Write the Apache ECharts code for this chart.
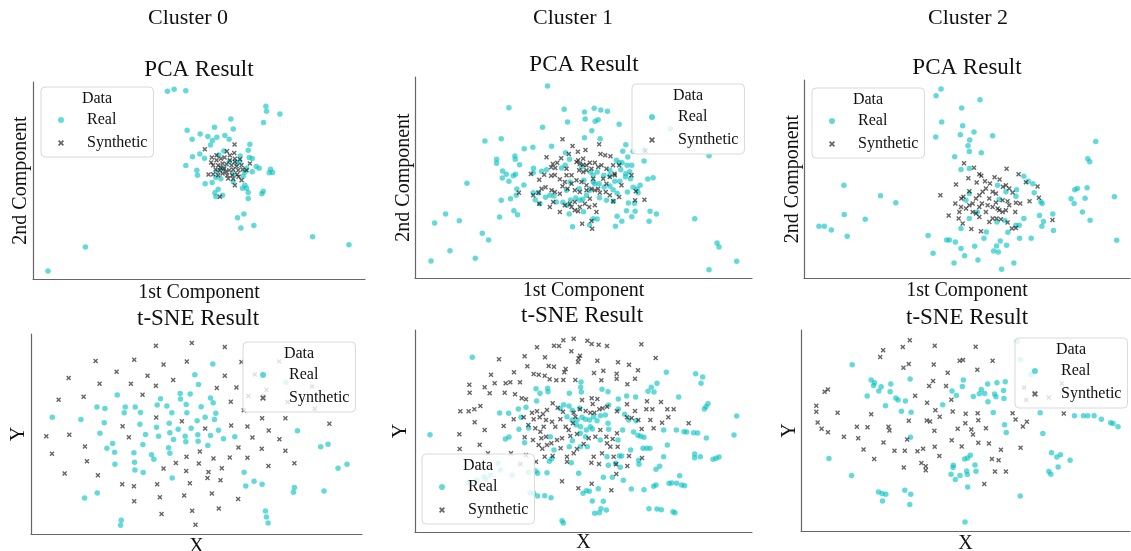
<!DOCTYPE html>
<html><head><meta charset="utf-8">
<script src="https://cdn.jsdelivr.net/npm/echarts@6/dist/echarts.min.js"></script>
<style>html,body{margin:0;padding:0;background:#fff}#c{width:1131px;height:551px}</style>
</head><body><div id="c"></div>
<script>
// ---------- DATA (arbitrary projection units) ----------
const clusterNames = ['Cluster 0', 'Cluster 1', 'Cluster 2'];
const seriesNames = ['Real', 'Synthetic'];

const pca0Real = [[503,564],[523,570],[558,566],[145,24],[257,96],[798,519],[800,504],[840,496],[693,481],[791,470],[938,127],[1047,103],[562,447],[644,456],[700,451],[601,436],[624,428],[651,426],[675,431],[577,420],[638,416],[688,420],[632,403],[750,405],[600,376],[578,367],[614,363],[672,385],[657,373],[745,387],[748,365],[721,370],[757,362],[558,341],[591,327],[593,312],[652,322],[648,305],[663,301],[616,286],[637,290],[655,270],[645,259],[648,248],[668,252],[735,321],[730,309],[740,333],[757,322],[769,338],[778,333],[812,330],[808,319],[818,320],[700,292],[735,282],[740,273],[728,273],[745,260],[745,242],[790,264],[786,256],[713,184],[732,195],[723,153],[762,161],[670,331],[700,317],[711,347],[688,352],[720,352]];
const pca0Syn = [[615,390],[681,384],[703,379],[704,404],[636,365],[650,357],[663,361],[674,365],[690,357],[705,361],[720,360],[640,342],[655,342],[668,347],[680,345],[695,342],[710,339],[725,342],[647,329],[660,327],[673,332],[688,327],[700,329],[715,327],[728,329],[640,315],[655,312],[668,317],[682,312],[697,312],[712,314],[626,314],[685,302],[700,301],[725,297],[705,282],[660,247],[750,347],[690,372],[662,335],[678,322],[705,352],[650,372],[716,307],[740,327],[634,350]];

const pca1Real = [[503,576],[387,511],[553,506],[614,498],[643,509],[663,504],[683,500],[563,468],[616,477],[646,470],[655,475],[718,461],[488,452],[636,442],[315,411],[364,418],[614,421],[661,418],[433,388],[459,392],[515,395],[405,366],[406,356],[350,356],[350,344],[419,340],[368,321],[367,300],[387,290],[400,307],[407,311],[379,311],[461,329],[460,316],[485,320],[500,325],[432,279],[411,267],[409,248],[364,233],[392,238],[460,256],[476,256],[466,235],[510,248],[522,246],[497,242],[529,228],[480,223],[402,202],[413,190],[359,183],[261,284],[164,165],[197,192],[238,172],[210,82],[153,51],[286,59],[307,134],[326,114],[557,376],[569,356],[556,338],[545,330],[571,288],[560,263],[549,227],[562,218],[568,192],[578,154],[611,199],[640,178],[652,177],[629,159],[712,185],[707,155],[726,170],[740,202],[756,184],[766,200],[808,170],[811,200],[830,192],[945,178],[1012,105],[1018,93],[1071,50],[988,25],[872,448],[816,481],[738,400],[729,380],[760,380],[744,363],[727,346],[742,338],[756,338],[710,353],[718,346],[723,325],[738,313],[737,304],[752,298],[720,290],[705,290],[760,272],[772,267],[775,256],[743,258],[712,254],[700,265],[690,276],[673,273],[658,283],[645,283],[640,288],[630,263],[620,248],[609,236],[600,233],[572,234],[588,240],[659,241],[680,233],[701,230],[746,225],[764,224],[793,351],[820,301],[804,297],[793,384],[988,367],[672,308],[690,308],[652,318],[632,318],[612,293],[598,268],[640,308],[605,333],[690,323],[750,319],[781,278]];
const pca1Syn = [[548,416],[578,396],[617,384],[594,379],[658,401],[662,372],[676,368],[692,365],[567,372],[544,359],[532,346],[519,342],[500,362],[514,332],[526,330],[493,310],[453,312],[514,307],[525,309],[478,295],[540,296],[555,288],[548,275],[563,268],[575,308],[590,348],[600,343],[610,340],[620,338],[630,346],[598,323],[610,318],[620,323],[635,328],[645,346],[655,333],[665,338],[680,328],[700,338],[718,338],[704,313],[690,303],[680,283],[705,308],[725,278],[755,308],[768,260],[766,233],[794,235],[718,243],[700,230],[690,248],[678,258],[660,256],[645,263],[630,238],[615,223],[600,213],[585,228],[570,223],[555,218],[540,253],[525,258],[515,263],[497,272],[485,268],[476,256],[460,248],[478,223],[510,213],[520,228],[540,198],[575,213],[585,203],[595,200],[607,163],[635,171],[637,148],[645,218],[650,198],[628,213],[560,308],[575,283],[590,293],[605,288],[620,278],[635,268],[655,268],[670,298],[640,298],[560,328],[585,263],[600,258],[620,263],[595,353],[610,358],[417,256],[797,382]];

const pca2Real = [[545,566],[530,546],[662,534],[607,509],[547,467],[610,456],[644,437],[603,429],[700,426],[529,422],[631,413],[626,396],[630,379],[666,375],[586,363],[1010,409],[986,357],[992,348],[605,325],[630,328],[253,278],[363,246],[409,225],[254,190],[317,176],[178,155],[194,155],[215,144],[263,125],[506,127],[521,74],[562,114],[570,114],[588,108],[605,88],[616,67],[584,45],[646,95],[656,54],[674,119],[681,138],[703,81],[712,96],[717,78],[723,111],[742,98],[727,26],[764,45],[746,137],[781,119],[816,119],[770,158],[780,158],[737,172],[713,168],[794,178],[841,187],[853,169],[848,155],[881,192],[883,142],[936,237],[945,223],[947,264],[955,268],[978,239],[984,270],[970,198],[993,173],[1066,243],[1073,113],[630,253],[620,233],[630,178],[654,198],[605,148],[715,278],[720,236],[740,258],[772,264],[794,305],[807,290],[821,282],[825,255],[845,228],[849,223],[770,245]];
const pca2Syn = [[614,344],[644,330],[627,299],[660,311],[666,306],[742,327],[778,311],[800,287],[835,274],[839,240],[811,230],[880,174],[590,280],[543,248],[606,238],[612,243],[630,260],[652,286],[677,290],[692,283],[706,302],[721,295],[731,273],[740,278],[750,268],[760,256],[745,230],[730,233],[710,253],[700,258],[680,268],[670,258],[660,248],[650,238],[640,223],[630,218],[620,208],[605,213],[600,198],[598,178],[610,163],[650,193],[660,183],[680,198],[690,168],[700,178],[712,178],[720,203],[730,198],[740,203],[750,218],[768,198],[770,225],[783,223],[758,148],[770,150],[665,140],[636,147],[568,187],[588,223],[668,223],[685,218],[700,213],[715,208],[745,166],[725,176],[690,238],[710,226],[660,213],[640,198]];

const tsne0Real = [[157,350],[243,343],[291,380],[315,376],[313,333],[300,302],[352,416],[376,380],[373,363],[406,380],[422,364],[420,329],[338,271],[321,257],[344,245],[345,209],[402,243],[404,215],[405,192],[430,184],[437,298],[429,268],[455,237],[462,224],[472,386],[482,405],[501,383],[516,363],[470,320],[476,293],[508,332],[510,303],[521,283],[506,258],[510,242],[517,168],[541,421],[542,404],[559,388],[571,419],[561,363],[535,314],[556,293],[558,276],[574,317],[594,297],[595,278],[592,339],[604,381],[585,477],[596,448],[616,350],[632,407],[640,393],[648,362],[644,343],[632,295],[656,311],[671,285],[624,265],[705,291],[639,509],[254,108],[292,123],[364,41],[362,26],[733,185],[738,144],[763,158],[787,149],[797,69],[800,51],[805,33],[884,139],[881,125],[973,129],[893,309],[963,261],[985,269],[1015,197],[1042,209],[791,478],[858,454]];
const tsne0Syn = [[468,564],[576,572],[675,560],[287,518],[403,522],[491,508],[561,517],[725,515],[206,467],[350,486],[443,474],[520,461],[675,474],[299,450],[393,450],[468,444],[651,437],[710,439],[176,402],[251,411],[428,417],[693,396],[765,478],[800,432],[838,517],[746,413],[792,413],[864,395],[937,442],[945,375],[732,371],[139,293],[208,297],[255,262],[261,218],[156,240],[194,181],[294,176],[368,323],[387,290],[469,349],[546,338],[616,316],[694,325],[743,322],[807,310],[758,289],[839,284],[786,255],[857,249],[716,259],[690,229],[641,226],[600,247],[560,231],[528,213],[491,196],[559,189],[597,211],[626,186],[666,197],[623,168],[662,161],[743,228],[806,204],[884,212],[787,347],[857,347],[989,330],[367,149],[402,143],[472,149],[570,152],[403,98],[480,110],[553,115],[636,121],[715,105],[485,60],[577,70],[657,76],[587,28]];

const tsne1Real = [[276,524],[149,292],[858,479],[946,475],[967,465],[962,446],[602,450],[601,434],[603,420],[467,430],[502,431],[503,421],[479,416],[567,416],[469,393],[414,369],[437,374],[358,357],[385,356],[422,344],[375,279],[386,285],[353,206],[445,312],[433,268],[416,308],[466,183],[472,176],[500,178],[507,212],[514,220],[595,176],[550,382],[540,370],[566,378],[576,365],[598,371],[560,346],[575,336],[590,336],[605,344],[615,338],[588,321],[601,316],[618,306],[628,336],[640,346],[650,334],[630,316],[636,309],[660,349],[675,351],[665,428],[683,421],[714,399],[739,408],[766,405],[803,422],[813,434],[821,420],[830,446],[685,381],[683,326],[685,308],[713,276],[760,300],[773,290],[781,287],[791,284],[788,251],[799,251],[809,251],[751,246],[717,228],[724,228],[775,215],[776,203],[838,197],[827,188],[850,226],[861,261],[850,306],[888,306],[911,301],[919,300],[940,298],[952,297],[978,282],[943,234],[943,223],[960,226],[998,218],[1007,221],[1016,225],[1061,291],[1069,348],[972,369],[977,376],[983,385],[895,405],[898,169],[866,146],[874,147],[889,146],[904,141],[913,139],[827,141],[820,137],[791,127],[753,129],[729,155],[696,164],[669,164],[654,130],[627,122],[618,124],[608,116],[636,93],[669,92],[678,66],[662,70],[643,56],[657,58],[806,70],[830,69],[843,67],[878,61],[884,58],[545,34],[549,27],[472,108],[493,109],[512,103],[460,116],[449,118],[444,179],[600,256],[621,256],[660,276],[576,274],[567,256],[680,226],[684,200],[706,206],[573,208],[510,286],[521,246],[720,194],[727,306],[714,369],[733,353],[745,336],[767,334],[600,296],[616,286],[330,170],[310,166],[290,156],[263,149],[317,159],[395,170],[360,186]];
const tsne1Syn = [[549,575],[580,580],[621,574],[634,564],[655,562],[680,558],[470,554],[521,559],[536,558],[573,542],[599,529],[595,521],[593,510],[651,514],[713,509],[746,502],[783,563],[826,522],[433,527],[356,518],[494,524],[441,497],[505,498],[521,496],[556,489],[460,474],[475,472],[493,469],[552,479],[401,479],[332,472],[343,446],[376,446],[390,449],[419,449],[267,442],[313,434],[268,418],[328,416],[373,418],[404,413],[424,401],[437,398],[508,458],[528,455],[549,456],[585,456],[641,477],[669,484],[663,455],[709,475],[709,460],[741,443],[764,460],[773,485],[634,401],[651,399],[637,384],[605,396],[599,368],[616,363],[630,358],[642,358],[657,368],[667,371],[680,376],[710,362],[740,383],[764,363],[740,344],[754,342],[774,336],[800,392],[798,368],[816,368],[842,390],[861,368],[880,368],[864,344],[845,328],[810,336],[784,309],[820,311],[925,326],[265,362],[240,362],[282,368],[300,378],[283,329],[237,293],[313,306],[298,262],[238,249],[323,236],[370,318],[392,236],[400,338],[430,344],[455,358],[470,362],[478,344],[488,354],[500,366],[517,386],[532,373],[548,361],[460,338],[444,321],[465,311],[490,316],[497,336],[515,331],[525,316],[540,338],[580,358],[585,346],[578,326],[556,316],[565,306],[570,288],[545,281],[530,276],[497,286],[483,281],[458,276],[475,261],[486,250],[500,261],[513,266],[541,251],[560,226],[560,211],[580,236],[590,249],[610,264],[625,281],[645,286],[660,306],[678,286],[680,266],[697,279],[710,296],[712,256],[690,256],[665,236],[640,226],[633,208],[656,204],[700,226],[707,203],[741,198],[708,174],[746,228],[785,222],[420,204],[437,231],[467,211],[493,226],[517,228],[545,152],[594,131],[634,145],[693,125],[480,301],[433,284],[590,294]];

const tsne2Real = [[278,498],[335,452],[345,444],[342,436],[358,419],[365,432],[394,440],[392,417],[409,398],[416,392],[438,389],[378,375],[323,404],[452,455],[426,359],[455,356],[453,281],[208,217],[276,166],[357,117],[368,112],[379,110],[369,90],[436,122],[454,110],[451,79],[550,378],[578,419],[591,406],[612,452],[609,433],[642,403],[660,411],[666,424],[676,412],[686,387],[685,440],[713,444],[706,410],[710,402],[733,421],[738,447],[734,397],[702,355],[736,318],[741,295],[843,354],[851,292],[946,345],[973,345],[986,345],[1005,345],[1027,335],[1055,324],[1062,322],[1077,312],[877,234],[893,222],[904,228],[897,192],[933,212],[869,178],[875,170],[616,216],[625,219],[633,227],[582,197],[581,190],[575,170],[588,154],[602,166],[622,180],[624,169],[647,198],[650,179],[625,132],[617,27],[783,105],[824,478],[815,468],[774,568],[784,514]];
const tsne2Syn = [[451,571],[430,551],[526,555],[649,552],[371,541],[362,521],[601,510],[611,512],[700,510],[448,500],[432,489],[523,499],[654,483],[565,474],[521,449],[509,434],[560,434],[195,417],[205,424],[467,405],[576,393],[503,384],[528,362],[580,358],[619,351],[655,353],[760,353],[914,352],[170,375],[170,357],[234,354],[335,350],[174,325],[186,306],[205,296],[253,282],[292,312],[324,311],[296,278],[387,312],[390,301],[448,330],[502,331],[512,328],[541,342],[525,300],[595,306],[636,304],[641,289],[680,308],[618,323],[657,332],[769,334],[803,327],[791,313],[312,244],[344,216],[372,265],[405,240],[436,240],[443,274],[474,239],[491,246],[526,252],[540,225],[577,272],[607,253],[657,264],[689,262],[725,243],[784,249],[433,190],[486,204],[499,194],[499,182],[698,216],[718,212],[707,178],[740,178],[675,141],[795,430],[801,392],[869,400],[908,442],[825,414]];

// ---------- LAYOUT / STYLE ----------
const FONT = '"Liberation Serif", "DejaVu Serif", serif';
const REAL_COLOR = 'rgba(0,192,192,0.76)';
const SYN_COLOR = 'rgba(10,10,10,0.78)';
const X_ICON = 'path://M0,2L2,0L5,3L8,0L10,2L7,5L10,8L8,10L5,7L2,10L0,8L3,5Z';

const panels = [
  {title:'PCA Result', tx:199, ty:70, xName:'1st Component', yName:'2nd Component', real:pca0Real, syn:pca0Syn,
   grid:{left:33, top:82, width:332, height:197}, xr:[100,1095], yr:[0,592], xGap:4, yGap:2, leg:[41,87]},
  {title:'PCA Result', tx:584, ty:65, xName:'1st Component', yName:'2nd Component', real:pca1Real, syn:pca1Syn,
   grid:{left:415, top:77, width:337, height:201}, xr:[105,1117], yr:[0,603], xGap:3, yGap:1, leg:[632,84]},
  {title:'PCA Result', tx:967, ty:68, xName:'1st Component', yName:'2nd Component', real:pca2Real, syn:pca2Syn,
   grid:{left:804, top:80, width:326, height:198}, xr:[133,1113], yr:[0,593], xGap:3, yGap:1, leg:[812,88]},
  {title:'t-SNE Result', tx:198, ty:319, xName:'X', yName:'Y', real:tsne0Real, syn:tsne0Syn,
   grid:{left:31, top:334, width:331, height:200}, xr:[93,1087], yr:[0,599], xGap:3, yGap:2, leg:[243,342]},
  {title:'t-SNE Result', tx:582, ty:316, xName:'X', yName:'Y', real:tsne1Real, syn:tsne1Syn,
   grid:{left:415, top:330, width:337, height:202}, xr:[104,1115], yr:[0,606], xGap:1, yGap:4, leg:[422,454]},
  {title:'t-SNE Result', tx:967, ty:318, xName:'X', yName:'Y', real:tsne2Real, syn:tsne2Syn,
   grid:{left:801, top:330, width:329, height:201}, xr:[124,1113], yr:[0,602], xGap:3, yGap:1, leg:[1015,338]}
];
const clusterPos = [[188,18],[573,18],[968,18]];

const axisLineStyle = {show:true, onZero:false, lineStyle:{color:'#666', width:1.2}};
const grids = [], xAxes = [], yAxes = [], series = [], legends = [], graphics = [];

clusterNames.forEach((c, i) => {
  graphics.push({type:'text', x:clusterPos[i][0], y:clusterPos[i][1], z:100,
    style:{text:c, font:'22px ' + FONT, fill:'#111', align:'center', verticalAlign:'middle'}});
});

panels.forEach((p, i) => {
  grids.push(Object.assign({containLabel:false, outerBoundsMode:'none'}, p.grid));
  xAxes.push({type:'value', gridIndex:i, min:p.xr[0], max:p.xr[1], axisLine:axisLineStyle,
    axisTick:{show:false}, axisLabel:{show:false}, splitLine:{show:false},
    name:p.xName, nameLocation:'middle', nameGap:p.xGap,
    nameTextStyle:{fontFamily:FONT, fontSize:20, color:'#111', verticalAlign:'top'}});
  yAxes.push({type:'value', gridIndex:i, min:p.yr[0], max:p.yr[1], axisLine:axisLineStyle,
    axisTick:{show:false}, axisLabel:{show:false}, splitLine:{show:false},
    name:p.yName, nameLocation:'middle', nameGap:p.yGap,
    nameTextStyle:{fontFamily:FONT, fontSize:20, color:'#111'}});
  series.push({type:'scatter', name:'Real', xAxisIndex:i, yAxisIndex:i, data:p.real,
    symbol:'circle', symbolSize:5.5, itemStyle:{color:REAL_COLOR}, z:2});
  series.push({type:'scatter', name:'Synthetic', xAxisIndex:i, yAxisIndex:i, data:p.syn,
    symbol:X_ICON, symbolSize:5, itemStyle:{color:SYN_COLOR}, z:3});
  legends.push({left:p.leg[0], top:p.leg[1], orient:'vertical', selectedMode:false,
    padding:[24,6,5,17], itemWidth:6, itemHeight:6, itemGap:5,
    backgroundColor:'rgba(255,255,255,0.8)', borderColor:'#d9d9d9', borderWidth:1, borderRadius:4,
    textStyle:{fontFamily:FONT, fontSize:16, lineHeight:18, color:'#111', padding:[0,0,0,18]},
    data:[{name:seriesNames[0], icon:'circle'}, {name:seriesNames[1], icon:X_ICON}]});
  graphics.push({type:'text', x:p.leg[0] + 56, y:p.leg[1] + 12, z:100,
    style:{text:'Data', font:'16px ' + FONT, fill:'#111', align:'center', verticalAlign:'middle'}});
  graphics.push({type:'text', x:p.tx, y:p.ty, z:100,
    style:{text:p.title, font:'23px ' + FONT, fill:'#111', align:'center', verticalAlign:'middle'}});
});

const chart = echarts.init(document.getElementById('c'), null, {renderer:'canvas'});
chart.setOption({animation:false, backgroundColor:'#fff', grid:grids, xAxis:xAxes, yAxis:yAxes,
  series:series, legend:legends, graphic:graphics});
</script></body></html>
